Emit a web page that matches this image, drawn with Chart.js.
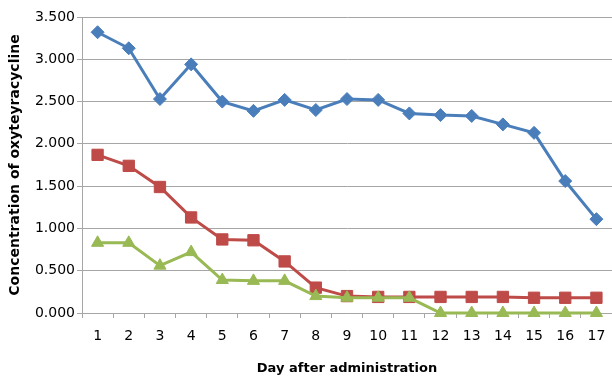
<!DOCTYPE html>
<html>
<head>
<meta charset="utf-8">
<script src="https://cdn.jsdelivr.net/npm/chart.js@4"></script>
<style>
  html, body { margin: 0; padding: 0; background: #fff; }
  #wrap { width: 612px; height: 379px; }
</style>
</head>
<body>
<div id="wrap"><canvas id="chart" width="612" height="379"></canvas></div>
<script>
// data
const days = ["1", "2", "3", "4", "5", "6", "7", "8", "9", "10", "11", "12", "13", "14", "15", "16", "17"];
const seriesBlue = [3.32, 3.13, 2.53, 2.94, 2.50, 2.39, 2.52, 2.40, 2.53, 2.52, 2.36, 2.34, 2.33, 2.23, 2.13, 1.56, 1.11];
const seriesRed = [1.87, 1.74, 1.49, 1.13, 0.87, 0.86, 0.61, 0.30, 0.20, 0.19, 0.19, 0.19, 0.19, 0.19, 0.18, 0.18, 0.18];
const seriesGreen = [0.83, 0.83, 0.56, 0.72, 0.39, 0.38, 0.38, 0.20, 0.18, 0.18, 0.18, 0, 0, 0, 0, 0, 0];
const yTicks = [0, 0.5, 1.0, 1.5, 2.0, 2.5, 3.0, 3.5];

const BLUE = "#4A7EBB";
const RED = "#BE4B48";
const GREEN = "#98B954";
const GRID = "#A6A6A6";

function makeSet(label, data, color, style, radius, order) {
  return {
    label, data, order,
    borderColor: color,
    backgroundColor: color,
    borderWidth: 3,
    pointStyle: style,
    pointRadius: radius,
    pointBorderWidth: 1,
    pointBorderColor: color,
    pointBackgroundColor: color,
    tension: 0,
  };
}

const ctx = document.getElementById("chart").getContext("2d");
new Chart(ctx, {
  type: "line",
  data: {
    labels: days,
    datasets: [
      makeSet("A", seriesBlue, BLUE, "rectRot", 6.5, 3),
      makeSet("B", seriesRed, RED, "rect", 8, 2),
      makeSet("C", seriesGreen, GREEN, "triangle", 7, 1),
    ],
  },
  options: {
    responsive: false,
    animation: false,
    clip: false,
    // plot runs a little past the right edge in the original
    layout: { autoPadding: false, padding: { top: 17, right: -4, left: 0, bottom: 0 } },
    plugins: { legend: { display: false }, tooltip: { enabled: false } },
    scales: {
      x: {
        type: "category",
        offset: true,
        afterFit: (s) => { s.height = 66; s.paddingLeft = 0; s.paddingRight = 0; },
        grid: { offset: true, drawOnChartArea: false, drawTicks: true, tickLength: 5, color: GRID },
        border: { color: GRID, width: 1 },
        ticks: { color: "#000", padding: 10, maxRotation: 0, autoSkip: false, font: { family: "DejaVu Sans", size: 14 } },
        title: { display: true, text: "Day after administration", color: "#000", padding: { top: 0, bottom: 3 }, font: { family: "DejaVu Sans", size: 13, weight: "bold" } },
      },
      y: {
        min: 0,
        max: 3.5,
        afterFit: (s) => { s.width = 82; },
        afterBuildTicks: (s) => { s.ticks = yTicks.map((v) => ({ value: v })); },
        grid: { color: GRID, tickLength: 5 },
        border: { color: GRID, width: 1 },
        ticks: { color: "#000", padding: 2, font: { family: "DejaVu Sans", size: 14 }, callback: (v) => Number(v).toFixed(3) },
        title: { display: true, text: "Concentration of oxyteyracycline", color: "#000", padding: { top: 7, bottom: 0 }, font: { family: "DejaVu Sans", size: 14, weight: "bold" } },
      },
    },
  },
});
</script>
</body>
</html>
